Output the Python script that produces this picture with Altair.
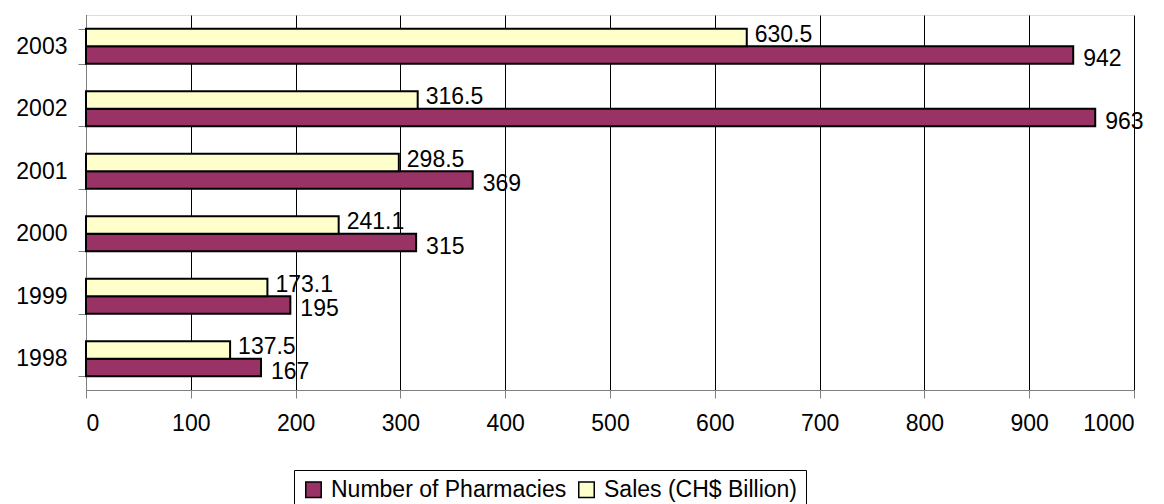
import altair as alt
import pandas as pd

years = ["1998", "1999", "2000", "2001", "2002", "2003"]
pharmacies = [167, 195, 315, 369, 963, 942]
sales = [137.5, 173.1, 241.1, 298.5, 316.5, 630.5]
series_names = ["Number of Pharmacies", "Sales (CH$ Billion)"]
series_colors = ["#993366", "#FFFFCC"]
x_ticks = list(range(0, 1001, 100))

rows = []
for i, yr in enumerate(years):
    rows.append({"year": yr, "series": series_names[0], "value": pharmacies[i]})
    rows.append({"year": yr, "series": series_names[1], "value": sales[i]})
df = pd.DataFrame(rows)
df["label"] = df["value"].map(lambda v: f"{v:g}")

FONT = "Liberation Sans"
year_order = years[::-1]
offset_order = [series_names[1], series_names[0]]

y_enc = alt.Y(
    "year:N",
    sort=year_order,
    scale=alt.Scale(paddingInner=0.44, paddingOuter=0.22),
    axis=alt.Axis(
        title=None,
        tickBand="extent",
        grid=False,
        domainColor="#808080",
        tickColor="#808080",
        tickSize=8,
        labelPadding=11,
        labelFontSize=23,
        labelColor="#000",
        labelFont=FONT,
    ),
)
yoff_enc = alt.YOffset(
    "series:N",
    sort=offset_order,
    scale=alt.Scale(paddingInner=0, paddingOuter=0),
)
x_enc = alt.X(
    "value:Q",
    scale=alt.Scale(domain=[0, 1000], nice=False),
    axis=alt.Axis(
        title=None,
        values=x_ticks,
        format="d",
        grid=True,
        gridColor="#000",
        gridWidth=1,
        domainColor="#808080",
        tickColor="#808080",
        tickSize=8,
        labelPadding=14,
        labelFontSize=23,
        labelColor="#000",
        labelFont=FONT,
    ),
)

bars = alt.Chart(df).mark_bar(stroke="#000", strokeWidth=2).encode(
    x=x_enc,
    y=y_enc,
    yOffset=yoff_enc,
    color=alt.Color(
        "series:N",
        scale=alt.Scale(domain=series_names, range=series_colors),
        legend=alt.Legend(
            title=None,
            orient="none",
            legendX=208,
            legendY=455,
            direction="horizontal",
            strokeColor="#000",
            fillColor="#fff",
            padding=8,
            symbolType="square",
            symbolSize=240,
            symbolStrokeColor="#000",
            symbolStrokeWidth=1.5,
            labelFontSize=23,
            labelFont=FONT,
            labelColor="#000",
            labelOffset=6,
            labelLimit=0,
            columnPadding=8,
        ),
    ),
)


def label_layer(series, dx, dy):
    return (
        alt.Chart(df)
        .transform_filter(alt.datum.series == series)
        .mark_text(
            align="left", baseline="middle", dx=dx, dy=dy,
            fontSize=23, font=FONT, color="#000",
        )
        .encode(
            x="value:Q",
            y=alt.Y("year:N", sort=year_order),
            yOffset=alt.YOffset("series:N", sort=offset_order),
            text="label:N",
        )
    )


sales_labels = label_layer(series_names[1], 8, -3)
pharm_labels = label_layer(series_names[0], 10, 4)

chart = (
    alt.layer(bars, sales_labels, pharm_labels)
    .properties(
        width=1048,
        height=375,
        autosize=alt.AutoSizeParams(type="none"),
        padding={"left": 86, "top": 15, "right": 30, "bottom": 114},
    )
    .configure_view(stroke=None)
    .configure(font=FONT)
)

chart.save("out.html", embed_options={"renderer": "svg", "actions": False})
